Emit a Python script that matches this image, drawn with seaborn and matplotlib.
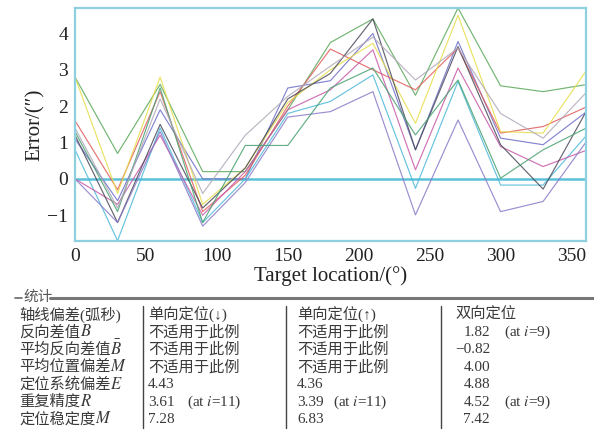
import numpy as np
import pandas as pd
import matplotlib
matplotlib.use('Agg')
import matplotlib.pyplot as plt
import seaborn as sns

# Positioning error for 10 runs at each target location
angles = [0, 30, 60, 90, 120, 150, 180, 210, 240, 270, 300, 330, 360]
run1 = [1.1, -0.6, 1.9, 0.0, 0.0, 2.5, 2.7, 4.0, 0.8, 3.78, 1.12, 0.94, 1.83]
run2 = [2.8, 0.7, 2.6, 0.2, 0.2, 1.9, 3.75, 4.4, 2.3, 4.7, 2.56, 2.4, 2.59]
run3 = [1.6, -0.3, 2.4, -0.9, 0.1, 2.0, 3.57, 3.0, 2.45, 3.6, 1.26, 1.44, 1.97]
run4 = [0.8, -1.7, 1.4, -1.2, 0.0, 1.8, 2.13, 2.86, -0.26, 2.68, -0.17, -0.17, 1.17]
run5 = [0.0, -0.7, 1.2, -1.0, 0.2, 1.9, 2.45, 3.55, 0.25, 3.05, 0.89, 0.34, 0.78]
run6 = [2.8, -0.4, 2.8, -0.7, 0.3, 2.1, 3.0, 3.73, 1.53, 4.5, 1.3, 1.26, 2.95]
run7 = [1.2, -1.2, 1.5, -0.8, 0.3, 2.2, 2.9, 4.4, 0.8, 3.64, 0.94, -0.28, 1.83]
run8 = [0.0, -1.2, 1.3, -1.3, -0.1, 1.7, 1.85, 2.4, -0.99, 1.62, -0.9, -0.62, 1.0]
run9 = [1.3, -0.9, 2.5, -1.2, 0.92, 0.92, 2.5, 3.05, 1.21, 2.72, 0.02, 0.8, 1.39]
run10 = [1.4, -0.8, 2.2, -0.4, 1.2, 2.27, 3.1, 3.9, 2.72, 3.6, 1.8, 1.12, 2.36]
runs = [run1, run2, run3, run4, run5, run6, run7, run8, run9, run10]
colors = ['#6e6ec8', '#5aa85a', '#e25c5c', '#4cb8d8', '#c85aa8',
          '#e6de4a', '#4a4a5a', '#8a7ac8', '#48a070', '#b0a8b8']

# statistics table
row_names = ['轴线偏差(弧秒)', '反向差值', '平均反向差值', '平均位置偏差',
             '定位系统偏差', '重复精度', '定位稳定度']
row_syms = ['', '$B$', r'$\bar{B}$', '$M$', '$E$', '$R$', '$M$']
col_down = ['单向定位(↓)', '不适用于此例', '不适用于此例', '不适用于此例', '4.43', '3.61', '7.28']
col_up = ['单向定位(↑)', '不适用于此例', '不适用于此例', '不适用于此例', '4.36', '3.39', '6.83']
col_bi = ['双向定位', '1.82', '−0.82', '4.00', '4.88', '4.52', '7.42']
note_down = ['', '', '', '', '', '(at $i$=11)', '']
note_up = ['', '', '', '', '', '(at $i$=11)', '']
note_bi = ['', '(at $i$=9)', '', '', '', '(at $i$=9)', '']

df = pd.DataFrame({
    'angle': angles * len(runs),
    'error': np.concatenate(runs),
    'run': np.repeat(np.arange(len(runs)), len(angles)),
})

sns.set_style('white')
plt.rcParams['font.family'] = ['Liberation Serif', 'Noto Sans CJK SC', 'DejaVu Sans']
plt.rcParams['mathtext.fontset'] = 'stix'

fig = plt.figure(figsize=(5.94, 4.30), dpi=100)

# full-figure axes in pixel units for the table
tab = fig.add_axes([0, 0, 1, 1])
tab.set_xlim(0, 594)
tab.set_ylim(430, 0)
tab.axis('off')

ax = fig.add_axes([0.1263, 0.4402, 0.8597, 0.5412])
sns.lineplot(data=df, x='angle', y='error', hue='run', palette=colors,
             legend=False, linewidth=0.85, alpha=0.85, ax=ax)
ax.axhline(0, color='#5cc0d8', lw=1.8, zorder=1)
ax.set_xlim(0, 360)
ax.set_ylim(-1.7, 4.7)
ax.set_xticks([0, 50, 100, 150, 200, 250, 300, 350])
ax.set_yticks([-1, 0, 1, 2, 3, 4])
ax.set_yticklabels(['−1', '0', '1', '2', '3', '4'])
ax.tick_params(labelsize=14, colors='#222222', length=0, pad=5)
for s in ax.spines.values():
    s.set_color('#8fd0e0')
    s.set_linewidth(1.6)
ax.set_xlabel('Target location/(°)', fontsize=15, labelpad=1, color='#222222')
ax.set_ylabel('Error/(″)', fontsize=15, labelpad=2, color='#222222')

# table header
tc = '#3a3a3a'
tab.plot([15, 22], [298, 298], color='#666666', lw=1.2)
tab.text(23, 297, '统计', fontsize=10.5, color='#555555', va='center', ha='left')
tab.plot([50, 594], [298, 298], color='#777777', lw=2.2)
for xs in [143, 286, 441]:
    tab.plot([xs, xs], [306, 428], color='#444444', lw=1.0)

row_y = [315, 332.4, 349.8, 367.2, 384.6, 402, 419.4]
fs = 11
for i, y in enumerate(row_y):
    t = tab.text(19, y, row_names[i], fontsize=fs, color=tc, va='center', ha='left')
    if row_syms[i]:
        tab.annotate(row_syms[i], xy=(1, 0.5), xycoords=t, fontsize=fs + 1,
                     color=tc, va='center', ha='left')
    tab.text(148, y, col_down[i], fontsize=fs, color=tc, va='center', ha='left')
    tab.text(297, y, col_up[i], fontsize=fs, color=tc, va='center', ha='left')
    if i == 0:
        tab.text(455, y, col_bi[i], fontsize=fs, color=tc, va='center', ha='left')
    else:
        tab.text(490, y, col_bi[i], fontsize=fs, color=tc, va='center', ha='right')
    if note_down[i]:
        tab.text(187, y, note_down[i], fontsize=fs, color=tc, va='center', ha='left')
    if note_up[i]:
        tab.text(333, y, note_up[i], fontsize=fs, color=tc, va='center', ha='left')
    if note_bi[i]:
        tab.text(504, y, note_bi[i], fontsize=fs, color=tc, va='center', ha='left')

fig.savefig('out.png', dpi=100)
